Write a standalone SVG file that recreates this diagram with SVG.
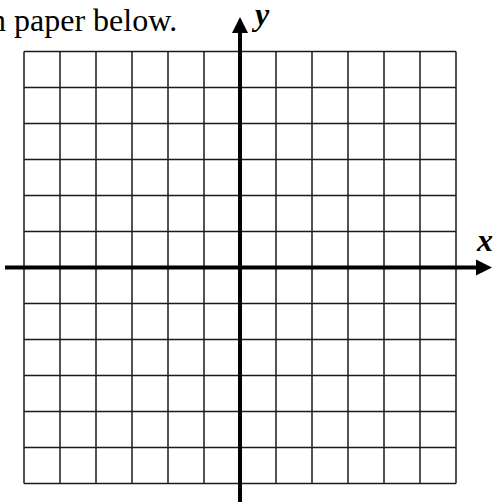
<svg xmlns="http://www.w3.org/2000/svg" width="496" height="502" viewBox="0 0 496 502">
  <style>
    .grid line { stroke: #1a1a1a; stroke-width: 1.5; }
    .axis { stroke: #000; stroke-width: 4; fill: none; }
    .lbl { font-family: "Liberation Serif", "Times New Roman", serif; font-weight: bold; font-style: italic; font-size: 32px; fill: #000; }
    .txt { font-family: "Liberation Serif", "Times New Roman", serif; font-size: 32px; fill: #000; }
  </style>
  <rect width="496" height="502" fill="#fff"/>
  <text class="txt" x="-10" y="31">n paper below.</text>
  <g id="grid" class="grid">
    <line x1="24" y1="51.5" x2="24" y2="483.5"/>
    <line x1="60" y1="51.5" x2="60" y2="483.5"/>
    <line x1="96" y1="51.5" x2="96" y2="483.5"/>
    <line x1="132" y1="51.5" x2="132" y2="483.5"/>
    <line x1="168" y1="51.5" x2="168" y2="483.5"/>
    <line x1="204" y1="51.5" x2="204" y2="483.5"/>
    <line x1="276" y1="51.5" x2="276" y2="483.5"/>
    <line x1="312" y1="51.5" x2="312" y2="483.5"/>
    <line x1="348" y1="51.5" x2="348" y2="483.5"/>
    <line x1="384" y1="51.5" x2="384" y2="483.5"/>
    <line x1="420" y1="51.5" x2="420" y2="483.5"/>
    <line x1="456" y1="51.5" x2="456" y2="483.5"/>
    <line x1="24" y1="51.5" x2="456" y2="51.5"/>
    <line x1="24" y1="87.5" x2="456" y2="87.5"/>
    <line x1="24" y1="123.5" x2="456" y2="123.5"/>
    <line x1="24" y1="159.5" x2="456" y2="159.5"/>
    <line x1="24" y1="195.5" x2="456" y2="195.5"/>
    <line x1="24" y1="231.5" x2="456" y2="231.5"/>
    <line x1="24" y1="303.5" x2="456" y2="303.5"/>
    <line x1="24" y1="339.5" x2="456" y2="339.5"/>
    <line x1="24" y1="375.5" x2="456" y2="375.5"/>
    <line x1="24" y1="411.5" x2="456" y2="411.5"/>
    <line x1="24" y1="447.5" x2="456" y2="447.5"/>
    <line x1="24" y1="483.5" x2="456" y2="483.5"/>
  </g>
  <g id="axes">
    <g id="x-axis">
      <line class="axis" x1="5" y1="267.5" x2="478" y2="267.5"/>
      <polygon points="476,259.5 492,267.5 476,275.5" fill="#000"/>
    </g>
    <g id="y-axis">
      <line class="axis" x1="240" y1="502" x2="240" y2="31"/>
      <polygon points="232,33 240,17 248,33" fill="#000"/>
    </g>
  </g>
  <text class="lbl" x="255" y="25">y</text>
  <text class="lbl" x="477" y="251">x</text>
</svg>
